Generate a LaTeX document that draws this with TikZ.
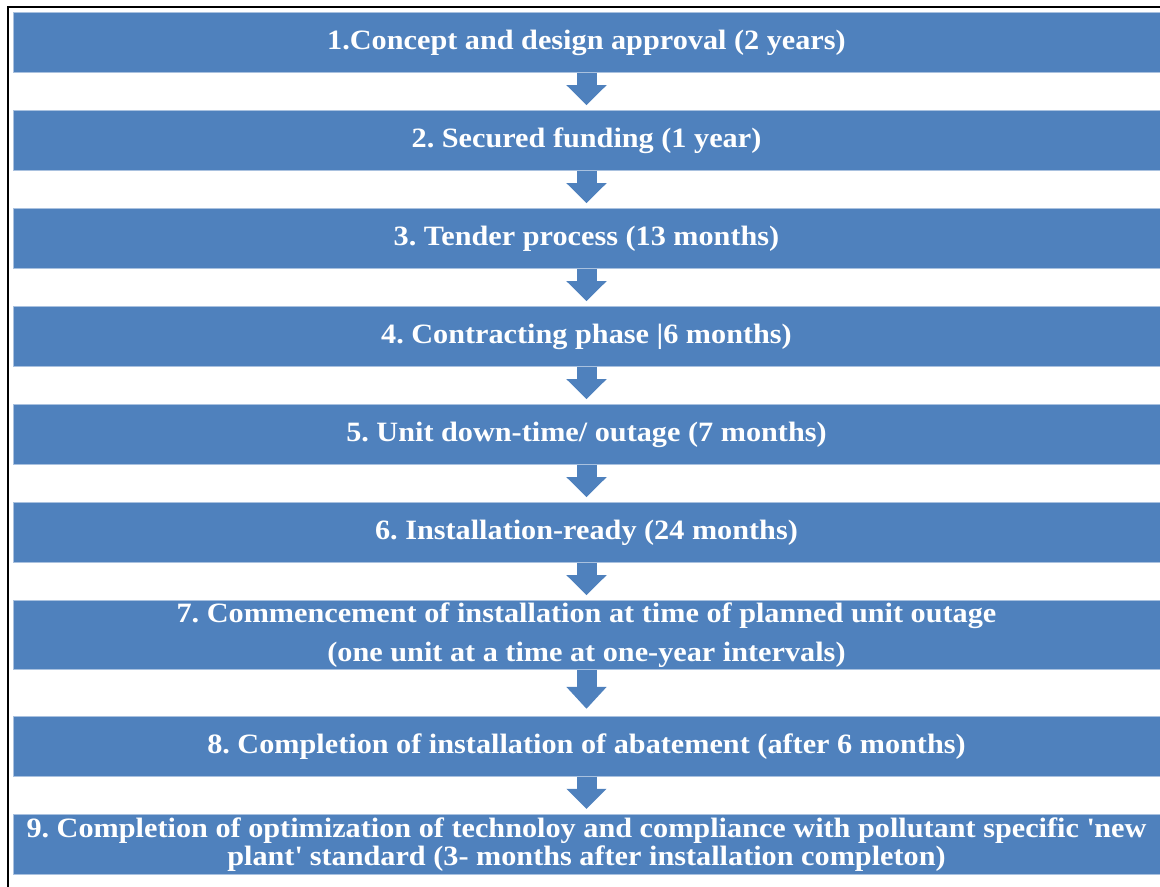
\documentclass[tikz,border=0pt]{standalone}
\usepackage{fontspec}
\setmainfont{Liberation Serif}[FakeStretch=1.08]
\usetikzlibrary{positioning,arrows.meta}
\definecolor{stepblue}{HTML}{4F81BD}
\definecolor{stepedge}{HTML}{A9C1DF}
\frenchspacing

\begin{document}
\begin{tikzpicture}[x=0.75pt,y=-0.75pt,
stage/.style={rectangle,draw=stepedge,line width=0.5pt,fill=stepblue,text=white,font=\fontsize{21}{27}\selectfont\bfseries,minimum width=860.25pt,minimum height=45pt,align=center,inner sep=0pt},
flow/.style={stepblue,line width=15pt,-{Triangle[width=29.25pt,length=15pt]},shorten >=3.75pt}]
	\useasboundingbox (0,0) rectangle (1160,887);
	%frame
	\draw[line width=1.5pt] (7.5,887) -- (7.5,7.5) -- (1160,7.5);
	%stages
	\node[stage] at (586.5,42.5) (s1) {1.Concept and design approval (2 years)};
	\node[stage,below=28pt of s1] (s2) {2. Secured funding (1 year)};
	\node[stage,below=28pt of s2] (s3) {3. Tender process (13 months)};
	\node[stage,below=28pt of s3] (s4) {4. Contracting phase |6 months)};
	\node[stage,below=28pt of s4] (s5) {5. Unit down-time/ outage (7 months)};
	\node[stage,below=28pt of s5] (s6) {6. Installation-ready (24 months)};
	\node[stage,below=28pt of s6,minimum height=51.75pt,font=\fontsize{21}{29}\selectfont\bfseries] (s7) {7. Commencement of installation at time of planned unit outage\\(one unit at a time at one-year intervals)};
	\node[stage,below=34.5pt of s7] (s8) {8. Completion of installation of abatement (after 6 months)};
	\node[stage,below=28pt of s8,font=\fontsize{21}{21}\selectfont\bfseries] (s9) {9. Completion of optimization of technoloy and compliance with pollutant specific \textquotesingle new\\plant\textquotesingle{} standard (3- months after installation completon)};
	%arrows
	\foreach \a/\b in {s1/s2,s2/s3,s3/s4,s4/s5,s5/s6,s6/s7,s8/s9}
		\draw[flow] (\a.south) -- (\b.north);
	\draw[flow,shorten >=5.25pt,-{Triangle[width=29.25pt,length=16.5pt]}] (s7.south) -- (s8.north);
\end{tikzpicture}
\end{document}
